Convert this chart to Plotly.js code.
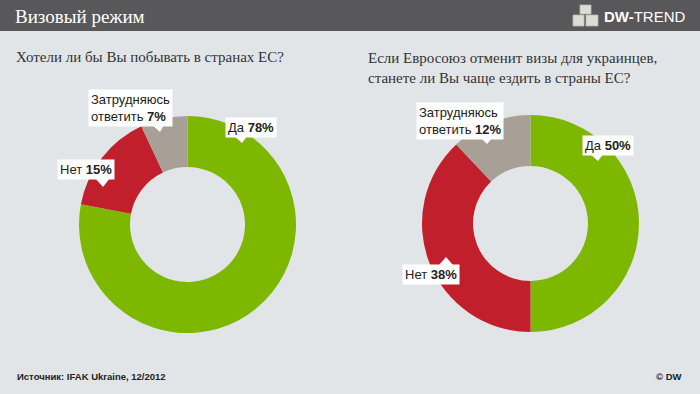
<!DOCTYPE html>
<html>
<head>
<meta charset="utf-8">
<script src="https://cdn.plot.ly/plotly-3.0.1.min.js"></script>
<style>
html,body{margin:0;padding:0;background:#e1e5e8;}
#chart{width:700px;height:394px;}
</style>
</head>
<body>
<div id="chart"></div>
<script>
// ---- data ----
var categories = ['Да', 'Нет', 'Затрудняюсь ответить'];
var values1 = [78, 15, 7];
var values2 = [50, 38, 12];
var colors = ['#7db700', '#c01f2b', '#a89f96'];
var headerTitle = 'Визовый режим';
var question1 = 'Хотели ли бы Вы побывать в странах ЕС?';
var question2 = 'Если Евросоюз отменит визы для украинцев,<br>станете ли Вы чаще ездить в страны ЕС?';
var sourceText = 'Источник: IFAK Ukraine, 12/2012';
var creditText = '© DW';

// ---- helpers (pixel -> paper) ----
var W = 700, H = 394;
function px(x) { return x / W; }
function py(y) { return 1 - y / H; }

function labelText(i, vals) {
  var name = categories[i];
  if (i === 2) name = 'Затрудняюсь<br>ответить';
  return name + ' <b>' + vals[i] + '%</b>';
}

var pieCommon = {
  type: 'pie',
  labels: categories,
  sort: false,
  direction: 'clockwise',
  rotation: 0,
  hole: 0.53,
  textinfo: 'none',
  hoverinfo: 'label+percent',
  marker: {colors: colors, line: {width: 0}},
  showlegend: false
};

var trace1 = Object.assign({}, pieCommon, {
  values: values1,
  domain: {x: [px(79), px(296)], y: [py(333), py(116)]}
});
var trace2 = Object.assign({}, pieCommon, {
  values: values2,
  domain: {x: [px(422), px(639)], y: [py(332), py(115)]}
});

// label boxes: [x_left, y_top] in pixels
var boxPos1 = [[225, 117], [57, 159], [88, 89]];
var boxPos2 = [[582, 135], [402, 264], [416, 102]];
// pointer triangles: [[x1,y1],[x2,y2],[tipx,tipy]]
var tri = [
  [[233,135],[248,135],[242,143]],
  [[95,178],[110,178],[103,187]],
  [[150,123],[165,123],[160,132]],
  [[589,153],[604,153],[598,161]],
  [[439,265],[453,265],[446,257]],
  [[479,136],[494,136],[487,144]]
];

var labelFont = {family: 'Liberation Sans, Arial, sans-serif', size: 13, color: '#222'};
var annotations = [];
function addLabels(pos, vals) {
  for (var i = 0; i < categories.length; i++) {
    annotations.push({
      xref: 'paper', yref: 'paper',
      x: px(pos[i][0]), y: py(pos[i][1]),
      xanchor: 'left', yanchor: 'top',
      text: labelText(i, vals), showarrow: false, align: 'left',
      bgcolor: '#ffffff', borderpad: 2, font: labelFont
    });
  }
}
addLabels(boxPos1, values1);
addLabels(boxPos2, values2);

annotations.push(
  {xref:'paper', yref:'paper', x: px(13), y: py(16), xanchor:'left', yanchor:'middle',
   text: headerTitle, showarrow:false,
   font:{family:'Liberation Serif, serif', size:19, color:'#ffffff'}},
  {xref:'paper', yref:'paper', x: px(602), y: py(16), xanchor:'left', yanchor:'middle',
   text: '<b>DW-</b>TREND', showarrow:false,
   font:{family:'Liberation Sans, Arial, sans-serif', size:15, color:'#ffffff'}},
  {xref:'paper', yref:'paper', x: px(14), y: py(57), xanchor:'left', yanchor:'middle',
   text: question1, showarrow:false,
   font:{family:'Liberation Serif, serif', size:15, color:'#333333'}},
  {xref:'paper', yref:'paper', x: px(366), y: py(48), xanchor:'left', yanchor:'top',
   text: question2, showarrow:false, align:'left',
   font:{family:'Liberation Serif, serif', size:15, color:'#333333'}},
  {xref:'paper', yref:'paper', x: px(15), y: py(376), xanchor:'left', yanchor:'middle',
   text: '<b>' + sourceText + '</b>', showarrow:false,
   font:{family:'Liberation Sans, Arial, sans-serif', size:9.5, color:'#222'}},
  {xref:'paper', yref:'paper', x: px(684), y: py(376), xanchor:'right', yanchor:'middle',
   text: '<b>' + creditText + '</b>', showarrow:false,
   font:{family:'Liberation Sans, Arial, sans-serif', size:9.5, color:'#222'}}
);

function pathPx(points) {
  var s = '';
  points.forEach(function(p, i) {
    s += (i === 0 ? 'M' : 'L') + px(p[0]) + ',' + py(p[1]);
  });
  return s + 'Z';
}

var shapes = [
  {type:'rect', xref:'paper', yref:'paper', x0:0, x1:1, y0:py(31), y1:1,
   fillcolor:'#58585a', line:{width:0}, layer:'below'}
];
tri.forEach(function(t) {
  shapes.push({type:'path', xref:'paper', yref:'paper', path: pathPx(t),
    fillcolor:'#ffffff', line:{width:0}});
});
// cube logo
var cubes = [
  [[580,5],[591,5],[591,14],[580,14]],
  [[573,15],[584,15],[584,26],[573,26]],
  [[586,15],[598,15],[598,26],[586,26]]
];
cubes.forEach(function(c) {
  shapes.push({type:'path', xref:'paper', yref:'paper', path: pathPx(c),
    fillcolor:'#dcdcd6', line:{color:'#b9b9b2', width:0.8}});
});

var layout = {
  width: W, height: H,
  margin: {l:0, r:0, t:0, b:0},
  paper_bgcolor: '#e1e5e8',
  plot_bgcolor: '#e1e5e8',
  showlegend: false,
  annotations: annotations,
  shapes: shapes
};

Plotly.newPlot('chart', [trace1, trace2], layout, {displayModeBar:false, staticPlot:true});
</script>
</body>
</html>
